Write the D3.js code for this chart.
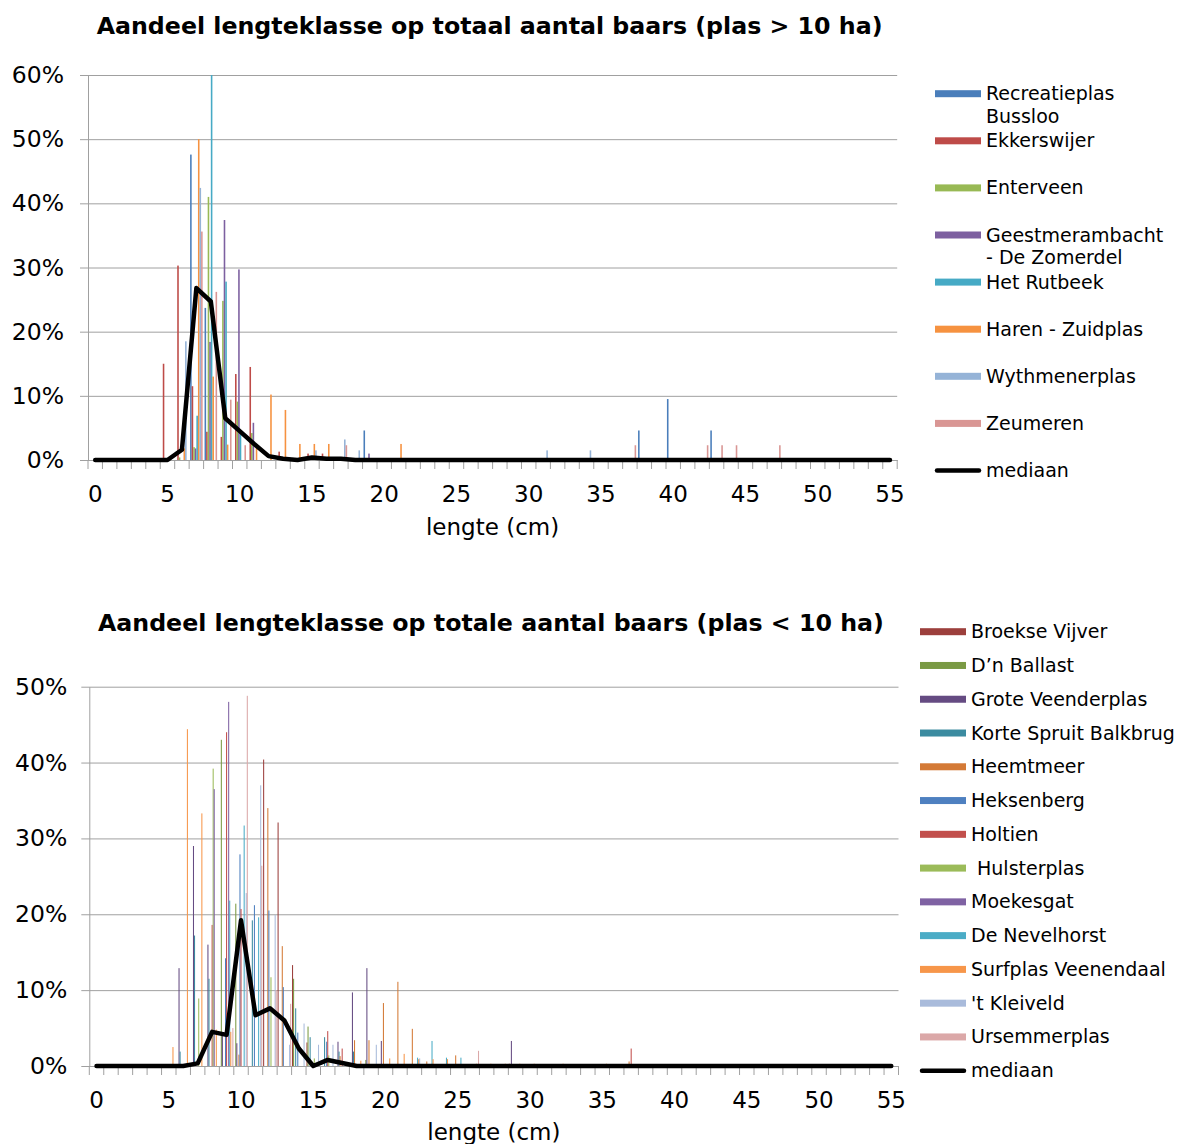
<!DOCTYPE html>
<html>
<head>
<meta charset="utf-8">
<script src="https://cdn.jsdelivr.net/npm/d3@7"></script>
<style>
  body { margin: 0; background: #fff; }
  svg text { font-family: "DejaVu Sans", Verdana, sans-serif; fill: #000; }
  .axis path, .axis line, .edge { stroke: #a0a0a0; }
</style>
</head>
<body>
<svg id="chart" width="1183" height="1144"></svg>
<script>
// length classes (cm) and axis labels
const lengths = d3.range(0, 56);
const xTickLabels = [0, 5, 10, 15, 20, 25, 30, 35, 40, 45, 50, 55];
const yTicksBig = [0, 10, 20, 30, 40, 50, 60];
const yTicksSmall = [0, 10, 20, 30, 40, 50];

// ---- plas > 10 ha (share in %) ----
const bigLakeNames = ['Recreatieplas\nBussloo', 'Ekkerswijer', 'Enterveen', 'Geestmerambacht\n- De Zomerdel',
  'Het Rutbeek', 'Haren - Zuidplas', 'Wythmenerplas', 'Zeumeren'];
const bigLakeColors = ['#4a7ebb', '#be4b48', '#98b954', '#7d60a0', '#46aac5', '#f69240', '#95b3d7', '#d99694'];

const bussloo = [
  0, 0, 0, 0, 0, 0, 0, 47.6, 23.7, 0,
  0, 0, 0, 0, 0, 0, 0, 0, 0, 4.6,
  0, 0, 0, 0, 0, 0, 0, 0, 0, 0,
  0, 0, 0, 0, 0, 0, 0, 0, 4.6, 0,
  9.5, 0, 0, 4.6, 0, 0, 0, 0, 0, 0,
  0, 0, 0, 0, 0, 0];
const ekkerswijer = [
  0, 0, 0, 0, 0, 15.0, 30.3, 11.5, 4.4, 3.6,
  13.4, 14.5, 0, 1.3, 0.3, 1.0, 1.0, 0, 0, 0,
  0, 0, 0, 0, 0, 0, 0, 0, 0, 0,
  0, 0, 0, 0, 0, 0, 0, 0, 0, 0,
  0, 0, 0, 0, 0, 0, 0, 0, 0, 0,
  0, 0, 0, 0, 0, 0];
const enterveen = [
  0, 0, 0, 0, 0, 0, 0.4, 2.0, 41.0, 24.8,
  9.1, 4.2, 0, 0, 0, 0, 0, 0, 0, 0,
  0, 0, 0, 0, 0, 0, 0, 0, 0, 0,
  0, 0, 0, 0, 0, 0, 0, 0, 0, 0,
  0, 0, 0, 0, 0, 0, 0, 0, 0, 0,
  0, 0, 0, 0, 0, 0];
const geestmerambacht = [
  0, 0, 0, 0, 0, 0, 0, 1.8, 18.4, 37.4,
  29.7, 5.8, 0, 0, 0, 0, 0, 0.3, 0.3, 1.0,
  0.3, 0, 0, 0, 0, 0, 0, 0, 0, 0,
  0, 0, 0, 0, 0, 0, 0, 0, 0, 0,
  0, 0, 0, 0, 0, 0, 0, 0, 0, 0,
  0, 0, 0, 0, 0, 0];
const rutbeek = [
  0, 0, 0, 0, 0, 0, 0, 6.9, 60.0, 27.8,
  4.0, 0, 0, 0, 0, 0, 0, 0, 0, 0,
  0, 0, 0, 0, 0, 0, 0, 0, 0, 0,
  0, 0, 0, 0, 0, 0, 0, 0, 0, 0,
  0, 0, 0, 0, 0, 0, 0, 0, 0, 0,
  0, 0, 0, 0, 0, 0];
const haren = [
  0, 0, 0, 0, 0, 0, 1.8, 50.0, 13.0, 2.4,
  0, 2.5, 10.2, 7.8, 2.5, 2.5, 2.5, 0, 0, 0,
  0, 2.5, 0, 0, 0, 0, 0, 0, 0, 0,
  0, 0, 0, 0, 0, 0, 0, 0, 0, 0,
  0, 0, 0, 0, 0, 0, 0, 0, 0, 0,
  0, 0, 0, 0, 0, 0];
const wythmenerplas = [
  0, 0, 0, 0, 0, 0, 18.5, 42.4, 0, 0,
  0, 0, 0, 0, 0, 1.5, 0, 3.2, 1.5, 0,
  0, 0, 0, 0, 0, 0, 0, 0, 0, 0,
  0, 1.5, 0, 0, 1.5, 0, 0, 0, 0, 0,
  0, 0, 0, 0, 0, 0, 0, 0, 0, 0,
  0, 0, 0, 0, 0, 0];
const zeumeren = [
  0, 0, 0, 0, 0, 0, 0, 35.6, 26.2, 9.4,
  2.3, 0, 0, 0, 0, 0, 0, 2.3, 0, 0,
  0, 0, 0, 0, 0, 0, 0, 0, 0, 0,
  0, 0, 0, 0, 0, 0, 0, 2.3, 0, 0,
  0, 0, 2.3, 2.3, 2.3, 0, 0, 2.3, 0, 0,
  0, 0, 0, 0, 0, 0];
const medianBig = [
  0, 0, 0, 0, 0, 0, 1.6, 26.8, 24.7, 6.5,
  4.5, 2.5, 0.6, 0.2, 0, 0.4, 0.2, 0.2, 0, 0,
  0, 0, 0, 0, 0, 0, 0, 0, 0, 0,
  0, 0, 0, 0, 0, 0, 0, 0, 0, 0,
  0, 0, 0, 0, 0, 0, 0, 0, 0, 0,
  0, 0, 0, 0, 0, 0];

// ---- plas < 10 ha (share in %) ----
const smallLakeNames = ['Broekse Vijver', 'D\u2019n Ballast', 'Grote Veenderplas', 'Korte Spruit Balkbrug',
  'Heemtmeer', 'Heksenberg', 'Holtien', ' Hulsterplas', 'Moekesgat', 'De Nevelhorst',
  'Surfplas Veenendaal', '\'t Kleiveld', 'Ursemmerplas'];
const smallLakeColors = ['#9c3f3c', '#7a9a44', '#654b82', '#3b8ba0', '#d47a36', '#4e80c0', '#c24f4c',
  '#9bbb59', '#7f62a3', '#4bacc6', '#f7964a', '#a9bbdb', '#dba8a8'];

const broekse = [
  0, 0, 0, 0, 0, 0, 0, 0, 0, 0,
  0, 0, 40.4, 32.1, 13.3, 3.1, 0, 0, 0, 0,
  0, 0, 0, 0, 0, 0, 0, 0, 0, 0.3,
  0, 0, 0, 0, 0, 0, 0, 0, 0, 0,
  0, 0, 0, 0, 0, 0, 0, 0, 0, 0,
  0, 0, 0, 0, 0, 0];
const ballast = [
  0, 0, 0, 0, 0, 0, 0, 0, 0, 43.0,
  21.4, 0, 0, 0, 11.5, 5.2, 0, 0, 0, 0.8,
  0, 0, 0, 0, 0, 0, 0, 0, 0, 0,
  0, 0, 0, 0, 0, 0, 0, 0, 0, 0,
  0, 0, 0, 0, 0, 0, 0, 0, 0, 0,
  0, 0, 0, 0, 0, 0];
const groteVeenderplas = [
  0, 0, 0, 0, 0, 0, 12.9, 29.0, 16.0, 4.0,
  3.0, 0, 0, 0, 0, 0, 0, 3.2, 9.7, 12.9,
  3.3, 0, 0, 0, 0, 0, 0, 0, 0, 3.3,
  0, 0, 0, 0, 0, 0, 0, 0, 0, 0,
  0, 0, 0, 0, 0, 0, 0, 0, 0, 0,
  0, 0, 0, 0, 0, 0];
const korteSpruit = [
  0, 0, 0, 0, 0, 0, 1.9, 17.2, 11.5, 0,
  0, 19.2, 0, 0, 7.6, 3.8, 3.8, 1.9, 1.9, 0,
  0, 0, 0, 0, 0, 0, 0, 0, 0, 0,
  0, 0, 0, 0, 0, 0, 0, 0, 0, 0,
  0, 0, 0, 0, 0, 0, 0, 0, 0, 0,
  0, 0, 0, 0, 0, 0];
const heemtmeer = [
  0, 0, 0, 0, 0, 0, 0, 0, 0, 0,
  1.5, 0, 34.0, 15.8, 0, 0, 0, 1.3, 3.4, 3.4,
  8.3, 11.1, 4.9, 0.6, 0, 1.4, 0, 0, 0, 0,
  0, 0, 0, 0, 0, 0, 0, 0.6, 0, 0,
  0, 0, 0, 0, 0, 0, 0, 0, 0, 0,
  0, 0, 0, 0, 0, 0];
const heksenberg = [
  0, 0, 0, 0, 0, 0, 0, 0, 0, 14.2,
  27.9, 21.2, 20.5, 10.4, 4.4, 0, 3.2, 0, 0, 0,
  0, 0, 0, 0, 0, 0, 0, 0, 0, 0,
  0, 0, 0, 0, 0, 0, 0, 0, 0, 0,
  0, 0, 0, 0, 0, 0, 0, 0, 0, 0,
  0, 0, 0, 0, 0, 0];
const holtien = [
  0, 0, 0, 0, 0, 0, 0, 0, 18.6, 44.0,
  20.7, 0, 0, 0, 0, 0, 4.6, 2.3, 0, 0,
  0, 0, 0, 0, 0, 0, 0, 0, 0, 0,
  0, 0, 0, 0, 0, 0, 0, 2.3, 0, 0,
  0, 0, 0, 0, 0, 0, 0, 0, 0, 0,
  0, 0, 0, 0, 0, 0];
const hulsterplas = [
  0, 0, 0, 0, 0, 0, 0, 8.9, 39.2, 0,
  0, 0, 11.7, 0, 0, 1.0, 1.4, 0, 0, 0,
  0, 0, 0, 0, 0, 0, 0, 0, 0, 0,
  0, 0, 0, 0, 0, 0, 0, 0, 0, 0,
  0, 0, 0, 0, 0, 0, 0, 0, 0, 0,
  0, 0, 0, 0, 0, 0];
const moekesgat = [
  0, 0, 0, 0, 0, 0, 0, 0, 36.5, 48.0,
  0, 0, 0, 0, 0, 0, 0, 0, 0, 0,
  0, 0, 0, 0, 0, 0, 0, 0, 0, 0,
  0, 0, 0, 0, 0, 0, 0, 0, 0, 0,
  0, 0, 0, 0, 0, 0, 0, 0, 0, 0,
  0, 0, 0, 0, 0, 0];
const nevelhorst = [
  0, 0, 0, 0, 0, 0, 0, 0, 0, 21.8,
  31.7, 19.6, 0, 0, 0, 0, 0, 0, 0, 0,
  0, 0, 1.1, 3.3, 1.1, 1.1, 0, 0, 0, 0,
  0, 0, 0, 0, 0, 0, 0, 0, 0, 0,
  0, 0, 0, 0, 0, 0, 0, 0, 0, 0,
  0, 0, 0, 0, 0, 0];
const surfplas = [
  0, 0, 0, 0, 0, 2.5, 44.4, 33.3, 4.8, 4.5,
  0, 0, 0, 0, 0, 0, 0, 0, 0.7, 0,
  1.0, 1.6, 0.9, 0.9, 0.9, 0, 0.3, 0.3, 0.3, 0.3,
  0.3, 0, 0.3, 0, 0, 0.3, 0, 0, 0, 0,
  0, 0, 0, 0, 0, 0, 0, 0, 0, 0,
  0, 0, 0, 0, 0, 0];
const kleiveld = [
  0, 0, 0, 0, 0, 0, 0, 0, 0, 0,
  22.8, 37.0, 19.9, 2.8, 5.6, 2.8, 2.8, 0, 0, 2.8,
  0, 0, 1.0, 0, 0, 0, 0, 0, 0, 0,
  0, 0, 0, 0, 0, 0, 0, 0, 0, 0,
  0, 0, 0, 0, 0, 0, 0, 0, 0, 0,
  0, 0, 0, 0, 0, 0];
const ursemmerplas = [
  0, 0, 0, 0, 0, 0, 0, 0, 0, 5.0,
  48.8, 26.4, 10.0, 8.2, 0, 0, 0, 0, 0, 0,
  0, 0, 0, 0, 0, 0, 2.0, 0, 0, 0,
  0, 0, 0, 0, 0, 0, 0, 0, 0, 0,
  0, 0, 0, 0, 0, 0, 0, 0, 0, 0,
  0, 0, 0, 0, 0, 0];
const medianSmall = [
  0, 0, 0, 0, 0, 0, 0, 0.35, 4.5, 4.1,
  19.2, 6.7, 7.6, 6.0, 2.3, 0, 0.8, 0.4, 0, 0,
  0, 0, 0, 0, 0, 0, 0, 0, 0, 0,
  0, 0, 0, 0, 0, 0, 0, 0, 0, 0,
  0, 0, 0, 0, 0, 0, 0, 0, 0, 0,
  0, 0, 0, 0, 0, 0];


class LengthChart {

  /**
   * Clustered columns per length class with the median drawn as a line
   */
  constructor(_config, _data) {
    this.config = {
      parentElement: _config.parentElement,
      left: _config.left,
      right: _config.right,
      top: _config.top,
      bottom: _config.bottom,
      yMax: _config.yMax,
      yTicks: _config.yTicks,
      yPadding: _config.yPadding || 24,
      title: _config.title,
      titleY: _config.titleY,
      axisTitleY: _config.axisTitleY,
      groupPadding: _config.groupPadding || 0.5,
      legend: _config.legend
    }
    this.data = _data;
    this.initVis();
  }

  initVis() {
    let vis = this;
    const c = vis.config;

    vis.width = c.right - c.left;
    vis.height = c.bottom - c.top;

    // one band per length class, one sub band per lake
    vis.xScale = d3.scaleBand()
        .domain(lengths)
        .range([0, vis.width]);

    vis.xSeries = d3.scaleBand()
        .domain(d3.range(vis.data.series.length))
        .range([0, vis.xScale.bandwidth()])
        .paddingOuter(c.groupPadding);

    vis.yScale = d3.scaleLinear()
        .domain([0, c.yMax])
        .range([vis.height, 0]);

    vis.yAxis = d3.axisLeft(vis.yScale)
        .tickValues(c.yTicks)
        .tickFormat(d => d + '%')
        .tickSizeInner(-vis.width)
        .tickSizeOuter(0)
        .tickPadding(c.yPadding);

    vis.xAxis = d3.axisBottom(vis.xScale)
        .tickValues(xTickLabels)
        .tickSize(0)
        .tickPadding(26);

    vis.svg = d3.select(vis.config.parentElement);

    vis.chart = vis.svg.append('g')
        .attr('transform', `translate(${c.left},${c.top})`);

    vis.yAxisG = vis.chart.append('g')
        .attr('class', 'axis y-axis');

    vis.barsG = vis.chart.append('g');

    vis.xAxisG = vis.chart.append('g')
        .attr('class', 'axis x-axis')
        .attr('transform', `translate(0,${vis.height})`);

    vis.svg.append('text')
        .attr('x', c.left + vis.width / 2 - 3)
        .attr('y', c.titleY)
        .attr('text-anchor', 'middle')
        .style('font-size', '23.7px')
        .style('font-weight', 'bold')
        .text(c.title);

    vis.svg.append('text')
        .attr('x', c.left + vis.width / 2)
        .attr('y', c.axisTitleY)
        .attr('text-anchor', 'middle')
        .style('font-size', '23px')
        .text('lengte (cm)');

    vis.renderVis();
    vis.renderLegend();
  }

  renderVis() {
    let vis = this;

    vis.yAxisG.call(vis.yAxis)
        .attr('font-size', null)
        .attr('font-family', null);
    vis.yAxisG.selectAll('.tick line').attr('x1', -8);
    vis.yAxisG.selectAll('text').style('font-size', '23.5px');

    // columns
    vis.barsG.selectAll('.series')
        .data(vis.data.series)
        .join('g')
        .attr('class', 'series')
        .attr('fill', (d, i) => vis.data.colors[i])
      .selectAll('rect')
        .data((d, i) => d.map((v, j) => ({len: lengths[j], value: v, s: i})))
        .join('rect')
        .attr('x', d => vis.xScale(d.len) + vis.xSeries(d.s))
        .attr('width', vis.xSeries.bandwidth())
        .attr('y', d => vis.yScale(d.value))
        .attr('height', d => vis.height - vis.yScale(d.value));

    vis.xAxisG.call(vis.xAxis)
        .attr('font-size', null)
        .attr('font-family', null);
    vis.xAxisG.selectAll('text').style('font-size', '23px');

    // tick marks between length classes
    const edges = lengths.map(d => vis.xScale(d)).concat([vis.xScale.range()[1]]);
    vis.xAxisG.selectAll('.edge')
        .data(edges)
        .join('line')
        .attr('class', 'edge')
        .attr('x1', d => d)
        .attr('x2', d => d)
        .attr('y1', 0)
        .attr('y2', 9);

    const line = d3.line()
        .x((d, j) => vis.xScale(lengths[j]) + vis.xScale.bandwidth() / 2)
        .y(d => vis.yScale(d));

    vis.chart.append('path')
        .datum(vis.data.median)
        .attr('d', line)
        .attr('fill', 'none')
        .attr('stroke', '#000')
        .attr('stroke-width', 4.5)
        .attr('stroke-linejoin', 'round')
        .attr('stroke-linecap', 'round');
  }

  renderLegend() {
    let vis = this;
    const l = vis.config.legend;

    const legendG = vis.svg.append('g')
        .attr('transform', `translate(${l.x},${l.y})`);

    const items = legendG.selectAll('.item')
        .data(vis.data.names)
        .join('g')
        .attr('class', 'item')
        .attr('transform', (d, i) => `translate(0,${i * l.step})`);

    items.append('rect')
        .attr('x', 0)
        .attr('y', -3.5)
        .attr('width', 46)
        .attr('height', 7)
        .attr('fill', (d, i) => vis.data.colors[i]);

    items.append('text')
        .attr('y', 6.5)
        .style('font-size', '19px')
      .selectAll('tspan')
        .data(d => d.split('\n'))
        .join('tspan')
        .attr('x', 51)
        .attr('dy', (d, k) => k ? 22.6 : 0)
        .style('white-space', 'pre')
        .text(d => d);

    const med = legendG.append('g')
        .attr('transform', `translate(0,${vis.data.names.length * l.step})`);
    med.append('line')
        .attr('x1', 2)
        .attr('x2', 44)
        .attr('stroke', '#000')
        .attr('stroke-width', 4.5)
        .attr('stroke-linecap', 'round');
    med.append('text')
        .attr('x', 51)
        .attr('y', 6.5)
        .style('font-size', '19px')
        .text('mediaan');
  }
}

new LengthChart({
  parentElement: '#chart',
  left: 88, right: 897.2, top: 75, bottom: 460,
  yMax: 60, yTicks: yTicksBig, yPadding: 24,
  title: 'Aandeel lengteklasse op totaal aantal baars (plas > 10 ha)',
  titleY: 34, axisTitleY: 535,
  groupPadding: 0.6,
  legend: {x: 935, y: 93.7, step: 47.1}
}, {
  names: bigLakeNames,
  colors: bigLakeColors,
  series: [bussloo, ekkerswijer, enterveen, geestmerambacht, rutbeek, haren, wythmenerplas, zeumeren],
  median: medianBig
});

new LengthChart({
  parentElement: '#chart',
  left: 89.3, right: 898.5, top: 686.7, bottom: 1066,
  yMax: 50, yTicks: yTicksSmall, yPadding: 22,
  title: 'Aandeel lengteklasse op totale aantal baars (plas < 10 ha)',
  titleY: 631, axisTitleY: 1140,
  groupPadding: 0.4,
  legend: {x: 920, y: 631.7, step: 33.77}
}, {
  names: smallLakeNames,
  colors: smallLakeColors,
  series: [broekse, ballast, groteVeenderplas, korteSpruit, heemtmeer, heksenberg, holtien,
    hulsterplas, moekesgat, nevelhorst, surfplas, kleiveld, ursemmerplas],
  median: medianSmall
});
</script>
</body>
</html>
